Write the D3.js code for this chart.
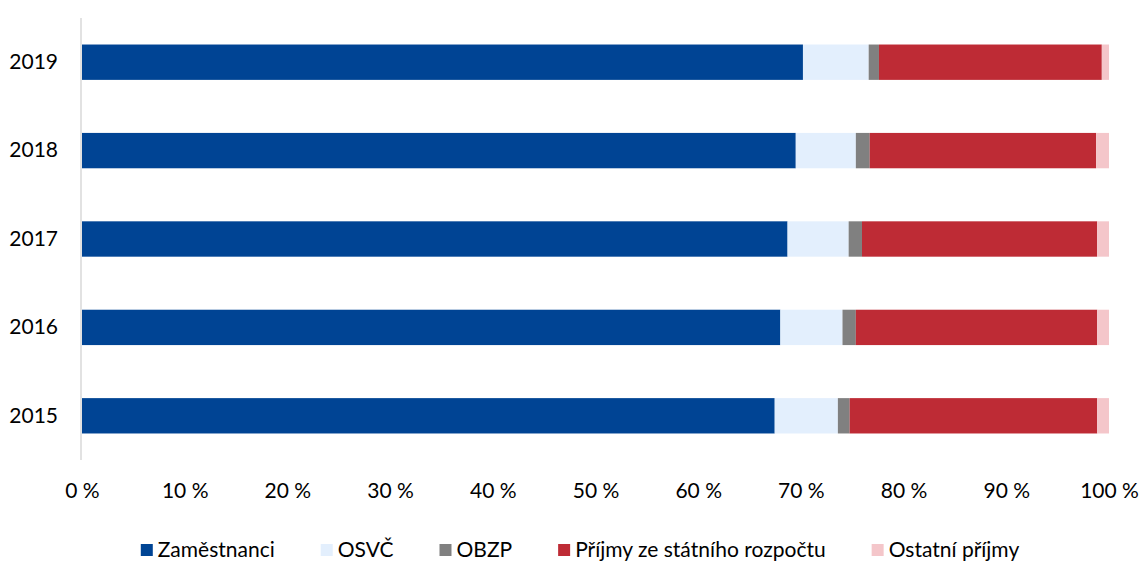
<!DOCTYPE html>
<html><head><meta charset="utf-8">
<script src="https://cdn.jsdelivr.net/npm/d3@7"></script>
<style>body{margin:0;background:#fff}svg{display:block}text{font-family:Lato,"Open Sans",sans-serif;fill:#000}</style>
</head><body><svg id="c" width="1141" height="561"></svg>
<script>
const years = ["2019","2018","2017","2016","2015"];
const seriesNames = ["Zaměstnanci","OSVČ","OBZP","Příjmy ze státního rozpočtu","Ostatní příjmy"];
const zamestnanci = [70.2, 69.5, 68.7, 68.0, 67.45];
const osvc        = [6.4, 5.85, 5.95, 6.05, 6.15];
const obzp        = [1.0, 1.35, 1.3, 1.3, 1.15];
const prijmySR    = [21.7, 22.05, 22.9, 23.5, 24.1];
const ostatni     = [0.7, 1.25, 1.15, 1.15, 1.15];
const colors = ["#004494","#E3EFFD","#808080","#BE2B35","#F4C6CA"];
const tickValues = [0,10,20,30,40,50,60,70,80,90,100];

const svg = d3.select("#c");
const fs = 21;
const x = d3.scaleLinear().domain([0,100]).range([82,1109]);
const y = d3.scaleBand().domain(years).range([18,460]).paddingInner(0.6).paddingOuter(0.3);

const all = [zamestnanci, osvc, obzp, prijmySR, ostatni];
const rows = years.map((yr,i)=>{ const o={year:yr}; seriesNames.forEach((s,k)=>o[s]=all[k][i]); return o;});
const stack = d3.stack().keys(seriesNames)(rows);

svg.append("g").selectAll("g").data(stack).join("g").attr("fill",(d,i)=>colors[i])
  .selectAll("rect").data(d=>d).join("rect")
  .attr("x",d=>x(d[0])).attr("width",d=>x(d[1])-x(d[0]))
  .attr("y",d=>y(d.data.year)).attr("height",y.bandwidth());

// vertical axis line
svg.append("line").attr("x1",81).attr("x2",81).attr("y1",18).attr("y2",460)
  .attr("stroke","#d9d9d9").attr("stroke-width",1.5);

// year labels
const ya = svg.append("g").attr("transform","translate(81,0)")
  .call(d3.axisLeft(y).tickSize(0).tickPadding(23));
ya.select(".domain").remove();
ya.selectAll("text").attr("font-size",fs).attr("font-family","Lato");

// x tick labels
const xa = svg.append("g").attr("transform","translate(0,478)")
  .call(d3.axisBottom(x).tickValues(tickValues).tickSize(0).tickPadding(5).tickFormat(d=>d+" %"));
xa.select(".domain").remove();
xa.selectAll("text").attr("font-size",fs).attr("font-family","Lato");

// legend
const lg = svg.append("g");
const items = lg.selectAll("g").data(seriesNames).join("g");
items.append("rect").attr("width",12).attr("height",12).attr("y",-6).attr("fill",(d,i)=>colors[i]);
items.append("text").attr("x",17).attr("dy","0.35em").attr("font-size",fs).text(d=>d);
let cx=0; const gap=46; const xs=[];
items.each(function(){ const w=17+this.querySelector("text").getComputedTextLength(); xs.push(cx); cx+=w+gap;});
const total=cx-gap; const start=580-total/2;
items.attr("transform",(d,i)=>`translate(${start+xs[i]},550)`);
</script></body></html>
